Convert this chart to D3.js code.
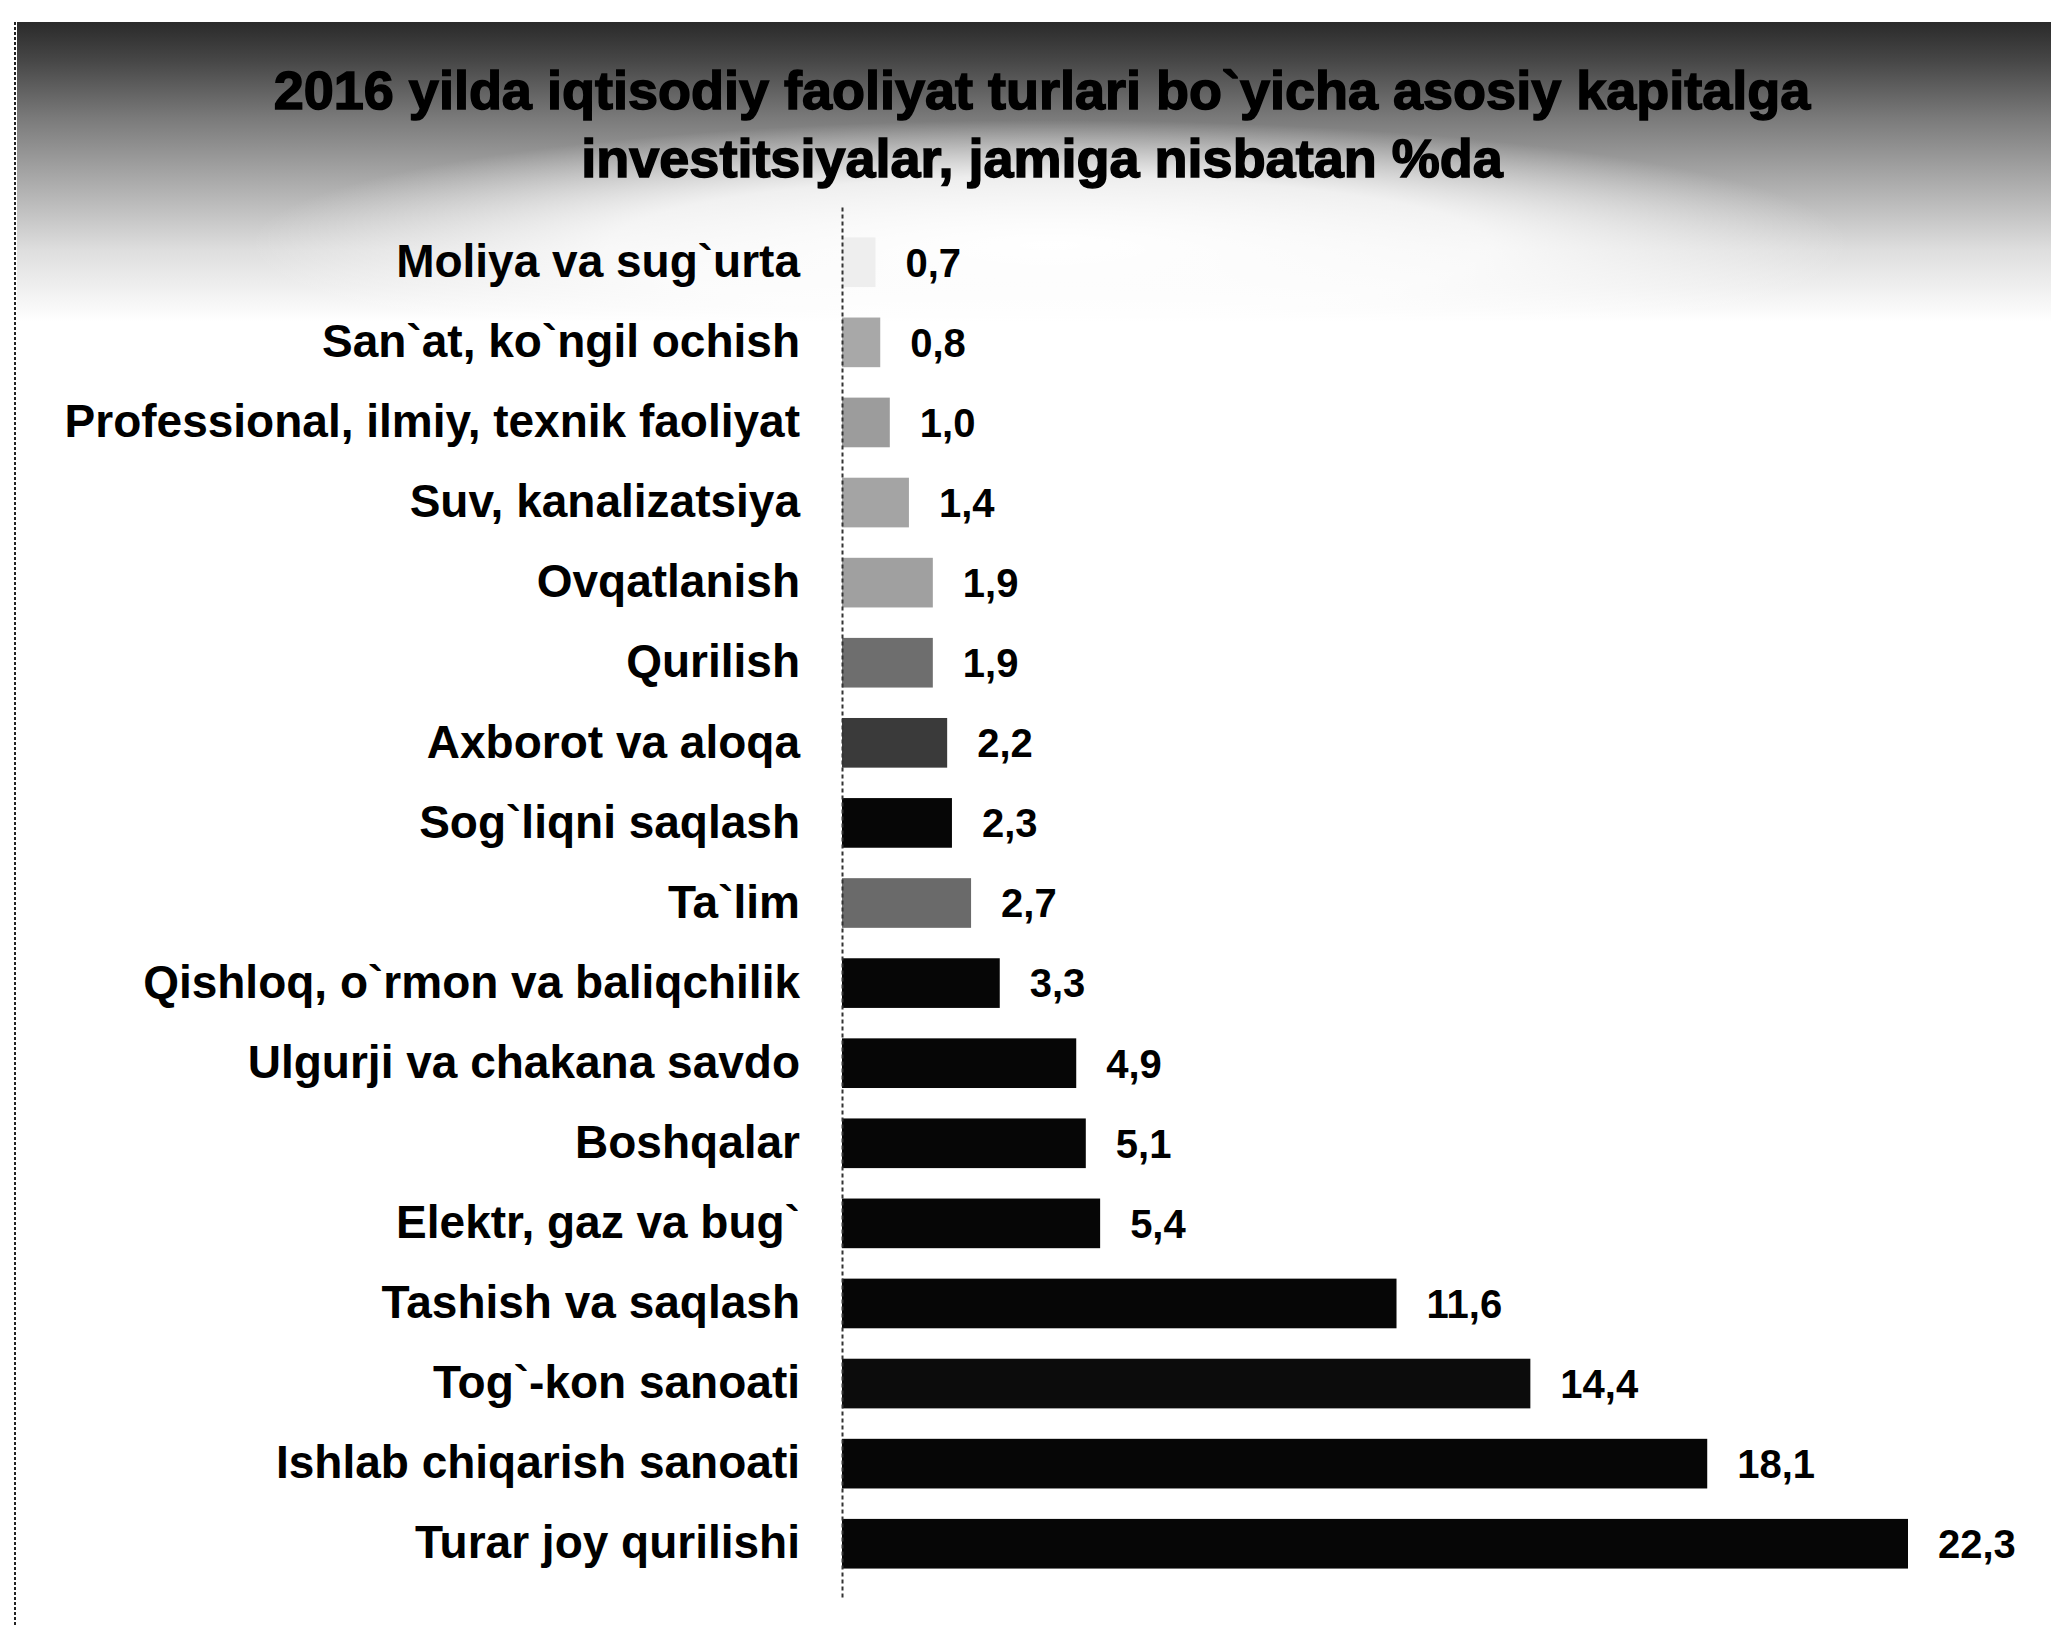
<!DOCTYPE html>
<html lang="uz">
<head>
<meta charset="UTF-8">
<title>Asosiy kapitalga investitsiyalar</title>
<style>
    body { margin: 0; background: #fff; }
    svg { display: block; }
</style>
</head>
<body>
<div id="chart"></div>
<script src="https://cdn.jsdelivr.net/npm/d3@7"></script>
<script>
    // data, top to bottom
    const titleLines = [
        "2016 yilda iqtisodiy faoliyat turlari bo`yicha asosiy kapitalga",
        "investitsiyalar, jamiga nisbatan %da"
    ];
    const categories = [
        "Moliya va sug`urta",
        "San`at, ko`ngil ochish",
        "Professional, ilmiy, texnik faoliyat",
        "Suv, kanalizatsiya",
        "Ovqatlanish",
        "Qurilish",
        "Axborot va aloqa",
        "Sog`liqni saqlash",
        "Ta`lim",
        "Qishloq, o`rmon va baliqchilik",
        "Ulgurji va chakana savdo",
        "Boshqalar",
        "Elektr, gaz va bug`",
        "Tashish va saqlash",
        "Tog`-kon sanoati",
        "Ishlab chiqarish sanoati",
        "Turar joy qurilishi"
    ];
    const values = [0.7, 0.8, 1.0, 1.4, 1.9, 1.9, 2.2, 2.3, 2.7, 3.3, 4.9, 5.1, 5.4, 11.6, 14.4, 18.1, 22.3];

    // bar tones of the scan, same order as categories
    const barShades = ["#eeeeee", "#a8a8a8", "#9c9c9c", "#a4a4a4", "#a0a0a0", "#6e6e6e", "#3a3a3a", "#060606",
                       "#6a6a6a", "#060606", "#060606", "#060606", "#060606", "#060606", "#0c0c0c", "#060606", "#060606"];

    const width = 2051, height = 1628;
    const font = "'Liberation Sans', Arial, sans-serif";

    const svg = d3.select("#chart").append("svg")
        .attr("width", width).attr("height", height);

    // title band: dark stippled strip fading to white
    const defs = svg.append("defs");
    const fade = defs.append("linearGradient").attr("id", "fade")
        .attr("x1", 0).attr("y1", 0).attr("x2", 0).attr("y2", 1);
    [[0, "#2a2a2a"], [0.13, "#474747"], [0.32, "#7a7a7a"], [0.52, "#a8a8a8"], [0.76, "#dedede"], [1, "#fff"]]
        .forEach(([o, c]) => fade.append("stop").attr("offset", o).attr("stop-color", c));
    const glow = defs.append("radialGradient").attr("id", "glow")
        .attr("cx", 0.5).attr("cy", 0.5).attr("r", 0.5);
    [[0, 1], [0.55, 0.8], [1, 0]]
        .forEach(([o, a]) => glow.append("stop").attr("offset", o).attr("stop-color", "#fff").attr("stop-opacity", a));

    svg.append("rect").attr("x", 17).attr("y", 22).attr("width", width - 17).attr("height", 300)
        .attr("fill", "url(#fade)");
    svg.append("ellipse").attr("cx", 1050).attr("cy", 245).attr("rx", 800).attr("ry", 125)
        .attr("fill", "url(#glow)");

    // left border of the scan
    svg.append("line").attr("x1", 15).attr("x2", 15).attr("y1", 22).attr("y2", 1625)
        .attr("stroke", "#222").attr("stroke-width", 2).attr("stroke-dasharray", "3,2");

    svg.append("g").selectAll("text").data(titleLines).join("text")
        .attr("x", 1042).attr("y", (d, i) => 109 + i * 68)
        .attr("text-anchor", "middle")
        .attr("font-family", font).attr("font-weight", "bold").attr("font-size", 54)
        .attr("fill", "#000").attr("stroke", "#000").attr("stroke-width", 1.5)
        .text(d => d);

    const x = d3.scaleLinear().domain([0, 22.3]).range([842, 1908]);
    const y = d3.scaleBand().domain(categories).range([207, 1599]).padding(0.38);

    const comma = d3.formatLocale({decimal: ",", thousands: " ", grouping: [3], currency: ["", ""]}).format(".1f");

    svg.append("g").selectAll("rect").data(values).join("rect")
        .attr("x", x(0))
        .attr("y", (d, i) => y(categories[i]))
        .attr("width", d => x(d) - x(0))
        .attr("height", y.bandwidth())
        .attr("fill", (d, i) => barShades[i]);

    svg.append("g").selectAll("text").data(values).join("text")
        .attr("x", d => x(d) + 30)
        .attr("y", (d, i) => y(categories[i]) + y.bandwidth() / 2)
        .attr("dy", "0.36em")
        .attr("font-family", font).attr("font-weight", "bold").attr("font-size", 40)
        .attr("fill", "#000")
        .text(d => comma(d));

    const axis = svg.append("g")
        .attr("transform", `translate(${x(0)},0)`)
        .call(d3.axisLeft(y).tickSize(0).tickSizeOuter(0).tickPadding(42));
    axis.attr("font-family", font).attr("font-size", 46).attr("font-weight", "bold");
    axis.selectAll("text").attr("fill", "#000");
    axis.select(".domain").attr("stroke", "#333").attr("stroke-width", 2).attr("stroke-dasharray", "4,3");
</script>
</body>
</html>
